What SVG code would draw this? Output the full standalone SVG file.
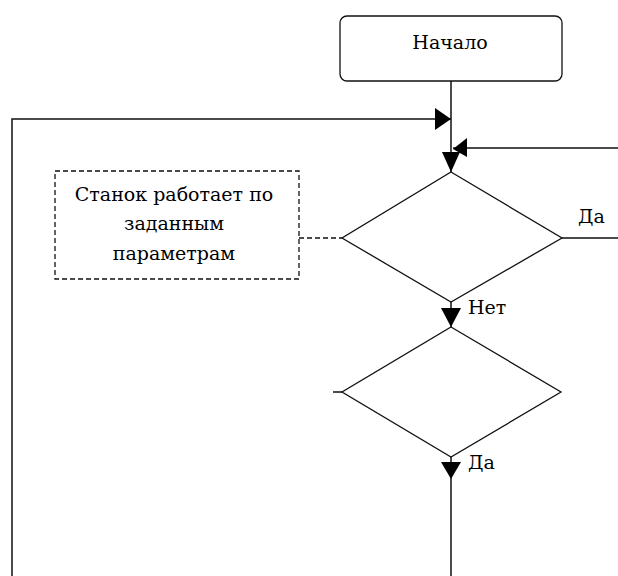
<svg xmlns="http://www.w3.org/2000/svg" width="618" height="576" viewBox="0 0 618 576">
<style>
.ln{fill:none;stroke:#111;stroke-width:1.5}
.sh{fill:#fff;stroke:#111;stroke-width:1.3}
.ds{fill:#fff;stroke:#111;stroke-width:1.3;stroke-dasharray:5,3}
.ah{fill:#000;stroke:none}
.t{font-family:"DejaVu Serif",serif;font-size:19px;fill:#000}
</style>
<rect width="618" height="576" fill="#fff"/>
<g id="connectors">
<polyline class="ln" points="12,576 12,119 451,119"/>
<line class="ln" x1="451" y1="81" x2="451" y2="172"/>
<line class="ln" x1="618" y1="148" x2="453" y2="148"/>
<line class="ln" x1="562" y1="238" x2="618" y2="238"/>
<line class="ln" x1="451" y1="302" x2="451" y2="327"/>
<line class="ln" x1="451" y1="457" x2="451" y2="576"/>
<line class="ln" x1="333" y1="392" x2="342" y2="392"/>
<line class="ds" x1="299" y1="238" x2="342" y2="238"/>
<polygon class="ah" points="451,119 435,108 435,130"/>
<polygon class="ah" points="453,149 467,138 467,157"/>
<polygon class="ah" points="451,172 442,152 460,152"/>
<polygon class="ah" points="451,327 441,308 461,308"/>
<polygon class="ah" points="451,479 441,462 461,462"/>
<text class="t" x="468" y="314">Нет</text>
<text class="t" x="468" y="469">Да</text>
<text class="t" x="578" y="223">Да</text>
</g>
<g id="start">
<rect class="sh" x="340" y="16" width="222" height="65" rx="7"/>
<text class="t" x="450" y="49" text-anchor="middle">Начало</text>
</g>
<g id="decision1">
<polygon class="sh" points="451,172 562,238 451,302 342,238"/>
</g>
<g id="decision2">
<polygon class="sh" points="451,327 561,392 451,457 342,392"/>
</g>
<g id="comment">
<rect class="ds" x="55" y="171" width="244" height="108"/>
<text class="t" x="174" y="201" text-anchor="middle">Станок работает по</text>
<text class="t" x="174" y="230" text-anchor="middle">заданным</text>
<text class="t" x="174" y="260" text-anchor="middle">параметрам</text>
</g>
</svg>
